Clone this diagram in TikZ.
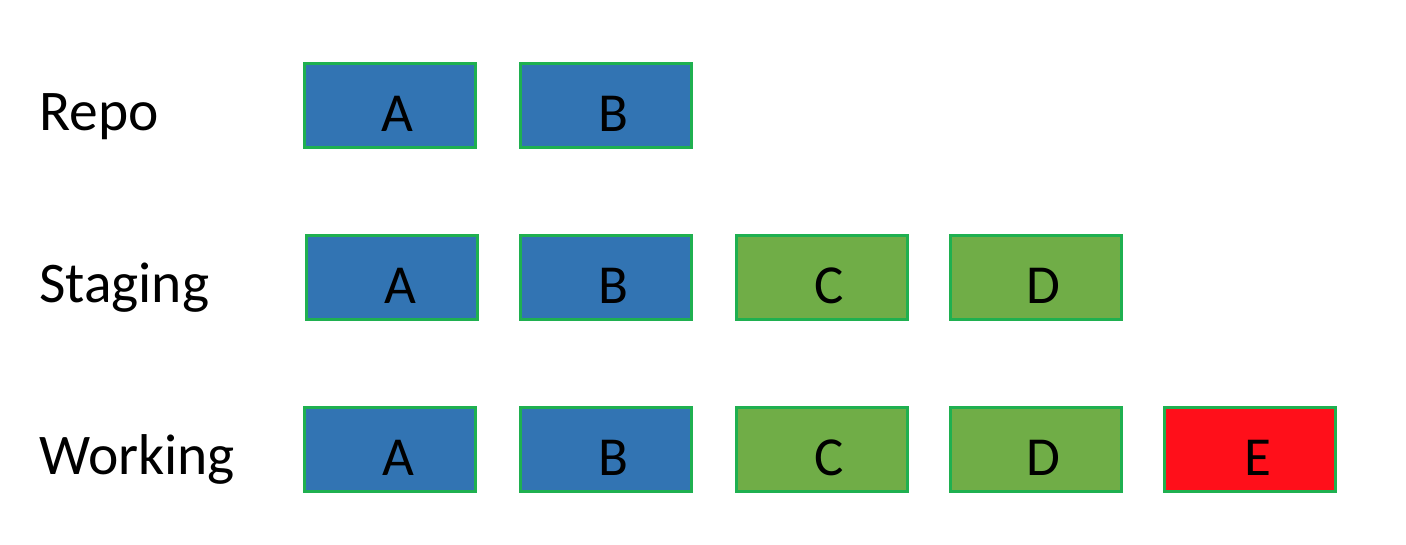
\documentclass[tikz,border=0pt]{standalone}
\usepackage{fontspec}
\setmainfont{Carlito}
\definecolor{bblue}{HTML}{3274B3}
\definecolor{bgreen}{HTML}{70AD47}
\definecolor{bred}{HTML}{FF0F1A}
\definecolor{bord}{HTML}{1FB050}
\begin{document}
\begin{tikzpicture}[x=1pt,y=-1pt,
  box/.style={draw=bord,line width=3pt,minimum width=171pt,minimum height=84pt,inner sep=0pt},
  bluebox/.style={box,fill=bblue},
  greenbox/.style={box,fill=bgreen},
  redbox/.style={box,fill=bred},
  letter/.style={font=\fontsize{55}{60}\selectfont,anchor=base,inner sep=0pt},
  rowlabel/.style={font=\fontsize{57.5}{62}\selectfont,anchor=base west,inner sep=0pt}]
\useasboundingbox (0,0) rectangle (1406,544);
% row labels
\node[rowlabel] (lrepo) at (39,130) {Repo};
\node[rowlabel] (lstag) at (39,302) {Staging};
\node[rowlabel] (lwork) at (39,474) {Working};
% Repo row
\node[bluebox] (rA) at (389.5,105) {};
\node[bluebox] (rB) at (605.5,105) {};
% Staging row
\node[bluebox] (sA) at (392,277) {};
\node[bluebox] (sB) at (605.5,277) {};
\node[greenbox] (sC) at (821.5,277) {};
\node[greenbox] (sD) at (1035.5,277) {};
% Working row
\node[bluebox] (wA) at (390,449) {};
\node[bluebox] (wB) at (605.5,449) {};
\node[greenbox] (wC) at (821.5,449) {};
\node[greenbox] (wD) at (1035.5,449) {};
\node[redbox] (wE) at (1249.5,449) {};
% letters
\foreach \b/\t in {rA/A,rB/B,sA/A,sB/B,sC/C,sD/D,wA/A,wB/B,wC/C,wD/D,wE/E}{
  \node[letter] (t\b) at ([xshift=8pt,yshift=-26pt]\b.center) {\t};
}
\end{tikzpicture}
\end{document}
